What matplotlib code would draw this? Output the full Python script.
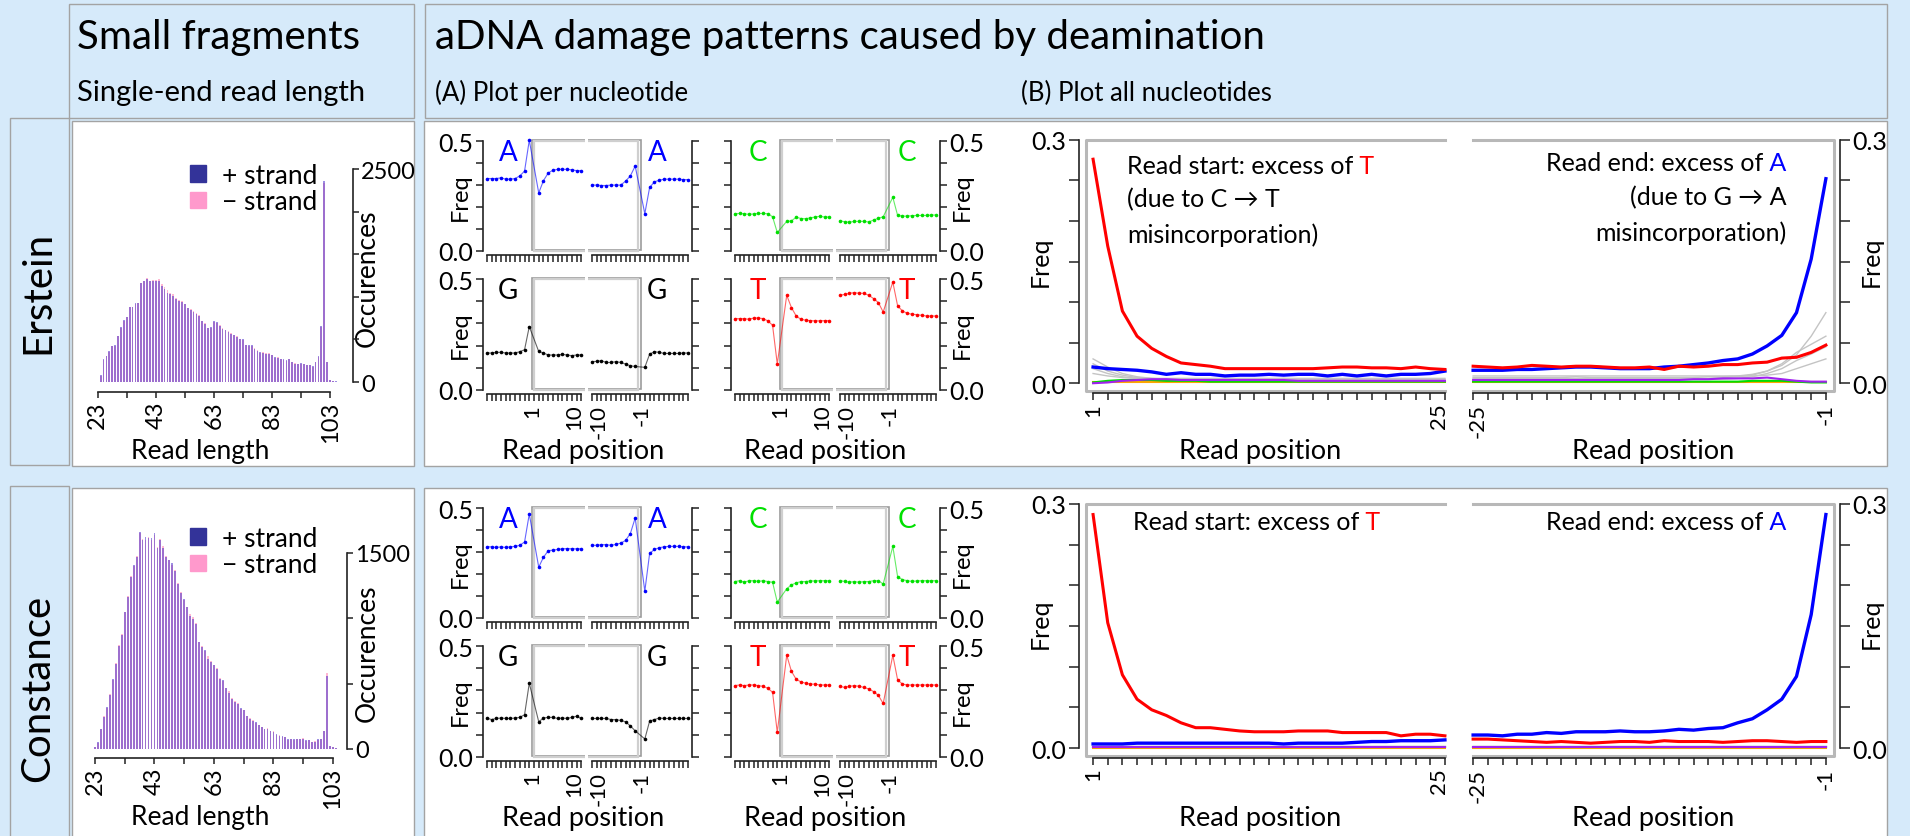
import matplotlib.pyplot as plt
from matplotlib.patches import Rectangle, Patch
from matplotlib.transforms import ScaledTranslation

plt.rcParams['font.family'] = ['Lato', 'DejaVu Sans']

W, H = 1910, 837
BG = '#d6eafa'
EDGE = '#a3a3a3'
AXC = '#222222'

# ---------------- read length histograms (lengths 23..106) ----------------
read_length = list(range(23, 107))
erstein_plus = [0, 78, 265, 300, 360, 420, 430, 540, 645, 725, 760, 880, 880, 925, 925,
                1165, 1180, 1210, 1190, 1190, 1190, 1190, 1130, 1090, 1050, 1035, 1015, 975,
                955, 935, 920, 865, 840, 820, 800, 780, 720, 685, 635, 645, 720, 700, 655,
                625, 605, 585, 565, 555, 525, 505, 500, 430, 435, 430, 390, 370, 350, 345,
                330, 330, 320, 290, 280, 265, 265, 255, 265, 235, 215, 215, 220, 215, 205,
                200, 185, 240, 300, 655, 2360, 240, 20, 10, 8, 5]
erstein_minus = [0, 70, 255, 305, 350, 425, 425, 545, 640, 720, 765, 875, 885, 920, 930,
                 1160, 1190, 1225, 1185, 1195, 1200, 1215, 1150, 1110, 1075, 1040, 1035, 990,
                 965, 950, 915, 870, 855, 835, 805, 785, 715, 690, 640, 640, 705, 690, 665,
                 640, 610, 600, 570, 550, 535, 500, 495, 440, 425, 425, 400, 375, 345, 350,
                 335, 340, 315, 285, 290, 270, 260, 250, 275, 230, 225, 210, 215, 210, 200,
                 205, 180, 235, 295, 650, 2340, 235, 18, 12, 6, 4]
constance_plus = [13, 50, 155, 245, 320, 415, 535, 650, 790, 875, 1050, 1160, 1315, 1410,
                  1470, 1660, 1600, 1620, 1615, 1615, 1650, 1535, 1600, 1535, 1470, 1445, 1420,
                  1365, 1265, 1190, 1150, 1085, 1020, 995, 960, 815, 780, 755, 690, 665, 640,
                  615, 535, 525, 465, 430, 385, 360, 345, 310, 295, 250, 230, 215, 205, 180,
                  165, 155, 155, 140, 130, 115, 100, 100, 90, 75, 75, 75, 75, 80, 80, 65, 65,
                  55, 55, 75, 75, 140, 560, 25, 13, 5, 3, 2]
constance_minus = [12, 48, 150, 250, 315, 420, 530, 660, 795, 880, 1045, 1170, 1320, 1400,
                   1480, 1650, 1610, 1600, 1625, 1600, 1640, 1545, 1610, 1550, 1480, 1450, 1410,
                   1370, 1270, 1200, 1140, 1090, 1030, 1010, 965, 820, 790, 750, 710, 670, 645,
                   620, 545, 520, 470, 440, 390, 365, 350, 305, 300, 255, 235, 220, 200, 185,
                   170, 150, 160, 135, 140, 110, 105, 95, 95, 72, 78, 72, 78, 78, 82, 62, 68,
                   52, 58, 72, 78, 135, 580, 24, 14, 6, 3, 2]

# ---------------- per-nucleotide frequencies (positions -10..-1, 1..10) ----------------
positions = [-10, -9, -8, -7, -6, -5, -4, -3, -2, -1, 1, 2, 3, 4, 5, 6, 7, 8, 9, 10]
erstein_A_5p = [0.330, 0.330, 0.330, 0.333, 0.327, 0.327, 0.330, 0.342, 0.364, 0.505,
                0.264, 0.320, 0.355, 0.368, 0.372, 0.372, 0.372, 0.370, 0.366, 0.366]
erstein_A_3p = [0.300, 0.300, 0.298, 0.298, 0.300, 0.300, 0.300, 0.318, 0.342, 0.387,
                0.169, 0.289, 0.315, 0.322, 0.327, 0.327, 0.327, 0.327, 0.325, 0.325]
erstein_C_5p = [0.169, 0.170, 0.169, 0.166, 0.168, 0.170, 0.170, 0.169, 0.155, 0.083,
                0.134, 0.136, 0.153, 0.147, 0.146, 0.150, 0.154, 0.157, 0.154, 0.154]
erstein_C_3p = [0.137, 0.132, 0.130, 0.134, 0.134, 0.134, 0.131, 0.140, 0.148, 0.155,
                0.244, 0.161, 0.158, 0.158, 0.160, 0.161, 0.161, 0.161, 0.163, 0.163]
erstein_G_5p = [0.166, 0.166, 0.169, 0.169, 0.166, 0.166, 0.166, 0.172, 0.181, 0.286,
                0.173, 0.166, 0.157, 0.157, 0.157, 0.160, 0.157, 0.154, 0.157, 0.157]
erstein_G_3p = [0.127, 0.128, 0.131, 0.123, 0.123, 0.127, 0.123, 0.116, 0.108, 0.105,
                0.101, 0.161, 0.172, 0.169, 0.164, 0.164, 0.164, 0.164, 0.166, 0.166]
erstein_T_5p = [0.322, 0.322, 0.322, 0.319, 0.325, 0.325, 0.322, 0.312, 0.292, 0.116,
                0.428, 0.372, 0.334, 0.319, 0.315, 0.313, 0.312, 0.312, 0.313, 0.313]
erstein_T_3p = [0.428, 0.432, 0.437, 0.440, 0.437, 0.437, 0.428, 0.413, 0.395, 0.352,
                0.488, 0.380, 0.357, 0.346, 0.342, 0.340, 0.337, 0.334, 0.334, 0.334]
constance_A_5p = [0.324, 0.324, 0.321, 0.324, 0.321, 0.324, 0.326, 0.331, 0.346, 0.474,
                  0.231, 0.276, 0.306, 0.309, 0.312, 0.315, 0.316, 0.315, 0.315, 0.315]
constance_A_3p = [0.331, 0.331, 0.334, 0.334, 0.331, 0.335, 0.341, 0.353, 0.385, 0.456,
                  0.121, 0.294, 0.312, 0.320, 0.324, 0.326, 0.326, 0.326, 0.324, 0.324]
constance_C_5p = [0.165, 0.169, 0.162, 0.169, 0.169, 0.166, 0.169, 0.165, 0.162, 0.071,
                  0.132, 0.150, 0.159, 0.165, 0.165, 0.168, 0.168, 0.169, 0.169, 0.169]
constance_C_3p = [0.169, 0.166, 0.162, 0.165, 0.162, 0.165, 0.165, 0.169, 0.169, 0.154,
                  0.326, 0.187, 0.174, 0.169, 0.166, 0.168, 0.169, 0.169, 0.169, 0.169]
constance_G_5p = [0.175, 0.168, 0.173, 0.175, 0.173, 0.173, 0.175, 0.178, 0.190, 0.333,
                  0.158, 0.175, 0.178, 0.178, 0.173, 0.175, 0.173, 0.178, 0.183, 0.173]
constance_G_3p = [0.173, 0.173, 0.173, 0.173, 0.168, 0.168, 0.164, 0.158, 0.139, 0.117,
                  0.080, 0.161, 0.168, 0.175, 0.173, 0.173, 0.173, 0.173, 0.173, 0.173]
constance_T_5p = [0.322, 0.325, 0.322, 0.325, 0.325, 0.322, 0.319, 0.310, 0.292, 0.110,
                  0.460, 0.387, 0.351, 0.339, 0.333, 0.329, 0.329, 0.325, 0.325, 0.325]
constance_T_3p = [0.319, 0.314, 0.319, 0.322, 0.319, 0.314, 0.307, 0.295, 0.278, 0.241,
                  0.460, 0.348, 0.329, 0.325, 0.325, 0.325, 0.325, 0.325, 0.325, 0.325]

# ---------------- misincorporation frequencies ----------------
start_pos = list(range(1, 26))
end_pos = list(range(-25, 0))
erstein_start_CT = [0.276, 0.169, 0.089, 0.058, 0.043, 0.033, 0.025, 0.023, 0.021, 0.018,
                    0.018, 0.018, 0.018, 0.018, 0.018, 0.018, 0.019, 0.020, 0.020, 0.019,
                    0.019, 0.018, 0.020, 0.018, 0.017]
erstein_start_GA = [0.020, 0.018, 0.017, 0.016, 0.014, 0.011, 0.013, 0.011, 0.011, 0.009,
                    0.010, 0.010, 0.011, 0.010, 0.011, 0.011, 0.009, 0.011, 0.009, 0.011,
                    0.009, 0.011, 0.011, 0.012, 0.015]
erstein_start_grey1 = [0.030, 0.020, 0.012, 0.008, 0.006, 0.005, 0.005, 0.005, 0.005, 0.005,
                       0.005, 0.005, 0.005, 0.006, 0.005, 0.005, 0.005, 0.005, 0.005, 0.005,
                       0.005, 0.005, 0.005, 0.005, 0.005]
erstein_start_grey2 = [0.024, 0.015, 0.010, 0.007, 0.006, 0.006, 0.006, 0.006, 0.006, 0.006,
                       0.006, 0.006, 0.006, 0.006, 0.006, 0.006, 0.006, 0.006, 0.006, 0.006,
                       0.006, 0.006, 0.006, 0.006, 0.006]
erstein_start_grey3 = [0.018, 0.012, 0.008, 0.006, 0.005, 0.004, 0.004, 0.004, 0.004, 0.004,
                       0.004, 0.004, 0.004, 0.004, 0.004, 0.004, 0.004, 0.004, 0.004, 0.004,
                       0.004, 0.004, 0.004, 0.004, 0.004]
erstein_start_grey4 = [0.012, 0.009, 0.007, 0.006, 0.005, 0.004, 0.004, 0.003, 0.003, 0.003,
                       0.003, 0.003, 0.003, 0.003, 0.003, 0.003, 0.003, 0.003, 0.003, 0.003,
                       0.003, 0.003, 0.003, 0.003, 0.003]
erstein_start_green = [0.001, 0.003, 0.004, 0.004, 0.004, 0.003, 0.003, 0.003, 0.002, 0.002,
                       0.002, 0.002, 0.002, 0.002, 0.002, 0.002, 0.002, 0.002, 0.002, 0.002,
                       0.002, 0.002, 0.002, 0.002, 0.002]
erstein_start_purple = [0.000, 0.001, 0.003, 0.004, 0.005, 0.005, 0.004, 0.004, 0.004, 0.004,
                        0.004, 0.004, 0.004, 0.004, 0.003, 0.003, 0.003, 0.003, 0.003, 0.003,
                        0.003, 0.003, 0.003, 0.003, 0.003]
erstein_start_orange = [0.001, 0.001, 0.001, 0.001, 0.001, 0.001, 0.001, 0.001, 0.001, 0.001,
                        0.001, 0.001, 0.001, 0.001, 0.001, 0.001, 0.001, 0.001, 0.001, 0.001,
                        0.001, 0.001, 0.001, 0.001, 0.001]
erstein_end_GA = [0.016, 0.016, 0.016, 0.017, 0.017, 0.018, 0.019, 0.020, 0.020, 0.019,
                  0.018, 0.018, 0.018, 0.020, 0.021, 0.023, 0.025, 0.028, 0.030, 0.036,
                  0.046, 0.059, 0.087, 0.153, 0.252]
erstein_end_CT = [0.021, 0.020, 0.019, 0.020, 0.022, 0.021, 0.020, 0.021, 0.021, 0.020,
                  0.019, 0.019, 0.020, 0.017, 0.021, 0.020, 0.021, 0.023, 0.023, 0.025,
                  0.026, 0.031, 0.032, 0.038, 0.047]
erstein_end_grey1 = [0.007, 0.007, 0.007, 0.007, 0.007, 0.007, 0.007, 0.008, 0.007, 0.007,
                     0.007, 0.007, 0.007, 0.007, 0.007, 0.007, 0.008, 0.008, 0.009, 0.011,
                     0.015, 0.022, 0.035, 0.058, 0.087]
erstein_end_grey2 = [0.006, 0.006, 0.006, 0.006, 0.006, 0.006, 0.006, 0.006, 0.006, 0.006,
                     0.006, 0.006, 0.006, 0.006, 0.006, 0.006, 0.006, 0.007, 0.008, 0.010,
                     0.015, 0.024, 0.038, 0.048, 0.058]
erstein_end_grey3 = [0.005, 0.005, 0.005, 0.005, 0.005, 0.005, 0.005, 0.005, 0.005, 0.005,
                     0.005, 0.005, 0.005, 0.005, 0.005, 0.005, 0.005, 0.005, 0.006, 0.008,
                     0.012, 0.018, 0.028, 0.036, 0.045]
erstein_end_grey4 = [0.009, 0.009, 0.009, 0.009, 0.009, 0.009, 0.009, 0.009, 0.009, 0.009,
                     0.009, 0.009, 0.009, 0.009, 0.009, 0.009, 0.009, 0.009, 0.009, 0.009,
                     0.010, 0.012, 0.018, 0.024, 0.030]
erstein_end_green = [0.002, 0.002, 0.002, 0.002, 0.002, 0.002, 0.002, 0.002, 0.002, 0.002,
                     0.002, 0.002, 0.002, 0.002, 0.002, 0.002, 0.002, 0.002, 0.002, 0.003,
                     0.003, 0.003, 0.002, 0.001, 0.001]
erstein_end_purple = [0.004, 0.004, 0.004, 0.004, 0.004, 0.004, 0.004, 0.004, 0.004, 0.004,
                      0.004, 0.004, 0.004, 0.004, 0.004, 0.005, 0.005, 0.006, 0.006, 0.006,
                      0.007, 0.005, 0.003, 0.002, 0.002]
erstein_end_orange = [0.001, 0.001, 0.001, 0.001, 0.001, 0.001, 0.001, 0.001, 0.001, 0.001,
                      0.001, 0.001, 0.001, 0.001, 0.001, 0.001, 0.001, 0.001, 0.001, 0.001,
                      0.001, 0.001, 0.001, 0.001, 0.001]
constance_start_CT = [0.287, 0.154, 0.090, 0.060, 0.047, 0.040, 0.031, 0.025, 0.025, 0.023,
                      0.021, 0.020, 0.020, 0.020, 0.021, 0.021, 0.021, 0.019, 0.019, 0.019,
                      0.019, 0.015, 0.017, 0.017, 0.015]
constance_start_GA = [0.005, 0.005, 0.005, 0.006, 0.006, 0.006, 0.006, 0.006, 0.006, 0.006,
                      0.006, 0.006, 0.006, 0.005, 0.006, 0.006, 0.006, 0.006, 0.007, 0.008,
                      0.008, 0.009, 0.009, 0.009, 0.010]
constance_start_grey1 = [0.003, 0.003, 0.003, 0.003, 0.003, 0.003, 0.003, 0.003, 0.003, 0.003,
                         0.003, 0.003, 0.003, 0.003, 0.003, 0.003, 0.003, 0.003, 0.003, 0.003,
                         0.003, 0.003, 0.003, 0.003, 0.003]
constance_start_purple = [0.001, 0.001, 0.001, 0.001, 0.001, 0.001, 0.001, 0.001, 0.001, 0.001,
                          0.001, 0.001, 0.001, 0.001, 0.001, 0.001, 0.001, 0.001, 0.001, 0.001,
                          0.001, 0.001, 0.001, 0.001, 0.001]
constance_start_orange = [0.000, 0.000, 0.000, 0.000, 0.000, 0.000, 0.000, 0.000, 0.000, 0.000,
                          0.000, 0.000, 0.000, 0.000, 0.000, 0.000, 0.000, 0.000, 0.000, 0.000,
                          0.000, 0.000, 0.000, 0.000, 0.000]
constance_end_GA = [0.016, 0.016, 0.015, 0.017, 0.017, 0.019, 0.018, 0.020, 0.020, 0.020,
                    0.021, 0.020, 0.020, 0.021, 0.023, 0.022, 0.024, 0.025, 0.031, 0.036,
                    0.047, 0.060, 0.088, 0.164, 0.287]
constance_end_CT = [0.011, 0.011, 0.010, 0.009, 0.008, 0.007, 0.008, 0.007, 0.006, 0.007,
                    0.008, 0.008, 0.007, 0.009, 0.008, 0.008, 0.008, 0.007, 0.008, 0.009,
                    0.009, 0.008, 0.007, 0.008, 0.008]
constance_end_grey1 = [0.003, 0.003, 0.003, 0.003, 0.003, 0.003, 0.003, 0.003, 0.003, 0.003,
                       0.003, 0.003, 0.003, 0.003, 0.003, 0.003, 0.003, 0.003, 0.003, 0.003,
                       0.003, 0.003, 0.003, 0.003, 0.003]
constance_end_purple = [0.001, 0.001, 0.001, 0.001, 0.001, 0.001, 0.001, 0.001, 0.001, 0.001,
                        0.001, 0.001, 0.001, 0.001, 0.001, 0.001, 0.001, 0.001, 0.001, 0.001,
                        0.001, 0.001, 0.001, 0.001, 0.001]
constance_end_orange = [0.000, 0.000, 0.000, 0.000, 0.000, 0.000, 0.000, 0.000, 0.000, 0.000,
                        0.000, 0.000, 0.000, 0.000, 0.000, 0.000, 0.000, 0.000, 0.000, 0.000,
                        0.000, 0.000, 0.000, 0.000, 0.000]

NUC_COL = {'A': '#0000ff', 'C': '#00e000', 'G': '#000000', 'T': '#ff0000'}

fig = plt.figure(figsize=(W / 100, H / 100), dpi=100)
fig.patch.set_facecolor(BG)

# overlay axes in pixel coordinates for cells and free text
ov = fig.add_axes([0, 0, 1, 1], zorder=0)
ov.set_xlim(0, W)
ov.set_ylim(H, 0)
ov.axis('off')


def cell(x0, y0, x1, y1, fc):
    ov.add_patch(Rectangle((x0, y0), x1 - x0, y1 - y0, fc=fc, ec=EDGE, lw=1.0))


def px_axes(x0, y0, x1, y1):
    a = fig.add_axes([x0 / W, 1 - y1 / H, (x1 - x0) / W, (y1 - y0) / H], zorder=2)
    a.patch.set_visible(False)
    return a


def shift_labels(ax, shifts):
    # nudge rotated tick labels sideways, like R does with las=2
    for tick, val in zip(ax.xaxis.get_major_ticks(), ax.get_xticks()):
        dx = shifts.get(int(round(val)), 0)
        if dx:
            lab = tick.label1
            lab.set_transform(lab.get_transform() + ScaledTranslation(dx / 100, 0, fig.dpi_scale_trans))


# layout cells
cell(69, 5, 414, 119, BG)
cell(425, 5, 1887, 119, BG)
cell(10, 119, 69, 466, BG)
cell(72, 122, 414, 467, 'white')
cell(424, 122, 1887, 467, 'white')
cell(10, 487, 69, 850, BG)
cell(72, 489, 414, 850, 'white')
cell(424, 489, 1887, 850, 'white')

ov.text(77, 37, 'Small fragments', fontsize=29, va='center')
ov.text(77, 93, 'Single-end read length', fontsize=21, va='center')
ov.text(435, 37, 'aDNA damage patterns caused by deamination', fontsize=29, va='center')
ov.text(435, 93, '(A) Plot per nucleotide', fontsize=18.5, va='center')
ov.text(1021, 93, '(B) Plot all nucleotides', fontsize=18.5, va='center')
ov.text(38, 292, 'Erstein', fontsize=29, rotation=90, va='center', ha='center')
ov.text(38, 688, 'Constance', fontsize=29, rotation=90, va='center', ha='center')


def style_spines(ax, side):
    for s in ('top', 'left', 'right'):
        ax.spines[s].set_visible(False)
    ax.spines[side].set_visible(True)
    for s in ('bottom', side):
        ax.spines[s].set_color(AXC)
        ax.spines[s].set_linewidth(1.2)
    ax.yaxis.set_ticks_position(side)
    ax.tick_params(colors=AXC, labelcolor='black', width=1.1)


# ---------------- histograms ----------------
def histogram(plus, minus, x0, x1, y_top, y_axis, xlim, ylim, ymax, ylabels, leg_y, occ_y):
    ax = px_axes(x0, y_top, x1, y_axis)
    ax.bar(read_length, minus, width=0.62, color=(1.0, 0.45, 0.65, 0.5), lw=0)
    ax.bar(read_length, plus, width=0.62, color=(0.3, 0.2, 0.8, 0.55), lw=0)
    ax.set_xlim(*xlim)
    ax.set_ylim(*ylim)
    style_spines(ax, 'right')
    ax.spines['bottom'].set_bounds(23, 103)
    ax.spines['right'].set_bounds(0, ymax)
    ax.set_xticks(range(23, 104, 10))
    ax.set_xticklabels(['23', '', '43', '', '63', '', '83', '', '103'], rotation=90, fontsize=17)
    ax.set_yticks(range(0, ymax + 1, 500))
    ax.set_yticklabels(ylabels, fontsize=17)
    ax.tick_params(axis='both', length=4, pad=2)
    ov.text(367, occ_y, 'Occurences', fontsize=19, rotation=90, va='center', ha='center')
    ov.text(200, y_axis + 59, 'Read length', fontsize=19, ha='center', va='center')
    ax.legend(handles=[Patch(color='#333399', label='+ strand'),
                       Patch(color='#ff99cc', label='\u2212 strand')],
              loc='upper left', bbox_to_anchor=(190 / W, 1 - leg_y / H),
              bbox_transform=fig.transFigure, frameon=False, fontsize=19,
              handlelength=0.6, handleheight=0.6, handletextpad=0.6, labelspacing=0.05,
              borderaxespad=0, borderpad=0)


histogram(erstein_plus, erstein_minus, 91.9, 353, 161.5, 393, (21, 110.9), (-117, 2600),
          2500, ['0', '', '', '', '', '2500'], 164, 278)
histogram(constance_plus, constance_minus, 89.0, 347, 501.7, 759, (21, 107.7), (-69, 1900),
          1500, ['0', '', '', '1500'], 527, 653)


# ---------------- per-nucleotide panels ----------------
def read_box(ax, end):
    if end == '5p':
        boxes = [(-0.5, 0.004, 12.0, 0.501, '#9c9c9c', 1.2), (0.0, 0.0, 12.0, 0.5, '#cfcfcf', 1.6)]
    else:
        boxes = [(-12.0, 0.004, 12.2, 0.501, '#9c9c9c', 1.2), (-12.0, 0.0, 11.6, 0.5, '#cfcfcf', 1.6)]
    for bx, by, bw, bh, c, lw in boxes:
        ax.add_patch(Rectangle((bx, by), bw, bh, fill=False, ec=c, lw=lw, clip_on=True, zorder=1))


def nuc_pair(x0, y0, y1, base, vals5, vals3, outer, bottom_row):
    col = NUC_COL[base]
    ax5 = px_axes(x0, y0, x0 + 102, y1)
    ax3 = px_axes(x0 + 105, y0, x0 + 209, y1)
    for ax, vals, side, end in ((ax5, vals5, 'left', '5p'), (ax3, vals3, 'right', '3p')):
        read_box(ax, end)
        ax.plot(positions, vals, color=col, lw=0.8, alpha=0.6, zorder=3)
        ax.plot(positions, vals, 'o', color=col, ms=2.6, mec='none', zorder=4)
        ax.set_xlim(-10.8, 10.8)
        ax.set_ylim(-0.02, 0.52)
        style_spines(ax, side)
        ax.spines[side].set_bounds(0, 0.5)
        ax.spines['bottom'].set_bounds(-10, 10)
        ax.set_yticks([0, 0.1, 0.2, 0.3, 0.4, 0.5])
        if side == outer:
            ax.set_yticklabels(['0.0', '', '', '', '', '0.5'], fontsize=18)
        else:
            ax.set_yticklabels([])
        ax.set_xticks(range(-10, 11))
        ax.tick_params(axis='y', length=5, pad=2)
        ax.tick_params(axis='x', length=5, pad=2)
        if bottom_row:
            if end == '5p':
                labs = {1: '1', 10: '10'}
            else:
                labs = {-10: '-10', -1: '-1'}
            ax.set_xticklabels([labs.get(i, '') for i in range(-10, 11)], rotation=90, fontsize=16)
            if end == '5p':
                shift_labels(ax, {1: -7, 10: -7})
            else:
                shift_labels(ax, {-10: 7, -1: 6})
        else:
            ax.set_xticklabels([])
    ymid = (y0 + y1) / 2
    if outer == 'left':
        ov.text(x0 - 23, ymid, 'Freq', fontsize=17, rotation=90, va='center', ha='center')
        ov.text(x0 + 25, y0 + 15, base, fontsize=20, color=col, va='center', ha='center')
        ov.text(x0 + 174, y0 + 15, base, fontsize=20, color=col, va='center', ha='center')
    else:
        ov.text(x0 + 231, ymid, 'Freq', fontsize=17, rotation=90, va='center', ha='center')
        ov.text(x0 + 27, y0 + 15, base, fontsize=20, color=col, va='center', ha='center')
        ov.text(x0 + 176, y0 + 15, base, fontsize=20, color=col, va='center', ha='center')


for dy, A5, A3, C5, C3, G5, G3, T5, T3 in (
        (0, erstein_A_5p, erstein_A_3p, erstein_C_5p, erstein_C_3p,
         erstein_G_5p, erstein_G_3p, erstein_T_5p, erstein_T_3p),
        (367, constance_A_5p, constance_A_3p, constance_C_5p, constance_C_3p,
         constance_G_5p, constance_G_3p, constance_T_5p, constance_T_3p)):
    nuc_pair(483, 138 + dy, 256 + dy, 'A', A5, A3, 'left', False)
    nuc_pair(731, 138 + dy, 256 + dy, 'C', C5, C3, 'right', False)
    nuc_pair(483, 276 + dy, 395 + dy, 'G', G5, G3, 'left', True)
    nuc_pair(731, 276 + dy, 395 + dy, 'T', T5, T3, 'right', True)
    ov.text(583, 452 + dy, 'Read position', fontsize=19.5, ha='center', va='center')
    ov.text(825, 452 + dy, 'Read position', fontsize=19.5, ha='center', va='center')


# ---------------- all-nucleotide panels ----------------
def all_panel(x0, x1, y0, y1, pos, greys, orange, green, purple, ga, ct, side):
    ax = px_axes(x0, y0, x1, y1)
    for g in greys:
        ax.plot(pos, g, color='#c4c4c4', lw=1.0, zorder=2)
    ax.plot(pos, orange, color='#ffa500', lw=1.5, zorder=3)
    ax.plot(pos, green, color='#00dd00', lw=1.5, zorder=3)
    ax.plot(pos, purple, color='#a020f0', lw=1.5, zorder=3)
    ax.plot(pos, ga, color='#0000ff', lw=2.4, zorder=4)
    ax.plot(pos, ct, color='#ff0000', lw=2.2, zorder=5)
    ax.set_ylim(-0.012, 0.312)
    style_spines(ax, side)
    ax.spines[side].set_bounds(0, 0.3)
    ax.set_yticks([0, 0.05, 0.1, 0.15, 0.2, 0.25, 0.3])
    ax.set_yticklabels(['0.0', '', '', '', '', '', '0.3'], fontsize=18)
    ax.tick_params(axis='y', length=7, pad=2)
    ax.tick_params(axis='x', length=5, pad=2)
    ax.set_xticks(pos)
    if side == 'left':
        ax.set_xlim(0.04, 25.96)
        ax.spines['bottom'].set_bounds(1, 25)
        ax.set_xticklabels(['1'] + [''] * 23 + ['25'], rotation=90, fontsize=16)
        shift_labels(ax, {25: -6})
        fx = [25, 0.52, 0.52, 25]
    else:
        ax.set_xlim(-25.96, -0.04)
        ax.spines['bottom'].set_bounds(-25, -1)
        ax.set_xticklabels(['-25'] + [''] * 23 + ['-1'], rotation=90, fontsize=16)
        shift_labels(ax, {-25: 5})
        fx = [-25, -0.45, -0.45, -25]
    ax.plot(fx, [0.3, 0.3, -0.01, -0.01], color='#b8b8b8', lw=2.2, zorder=1, clip_on=False)


def two_tone_left(x, y, head, tail, color):
    t = ov.text(x, y, head, fontsize=18, va='center', ha='left')
    ov.annotate(tail, xy=(1, 0), xycoords=t, va='bottom', ha='left', fontsize=18, color=color)


def two_tone_right(x, y, head, tail, color):
    t = ov.text(x, y, tail, fontsize=18, va='center', ha='right', color=color)
    ov.annotate(head, xy=(0, 0), xycoords=t, va='bottom', ha='right', fontsize=18)


for dy, yb, yt, greys_s, ors, grs, pus, gas, cts, greys_e, ore, gre, pue, gae, cte, long_note in (
        (0, 394, 131,
         [erstein_start_grey1, erstein_start_grey2, erstein_start_grey3, erstein_start_grey4],
         erstein_start_orange, erstein_start_green, erstein_start_purple,
         erstein_start_GA, erstein_start_CT,
         [erstein_end_grey1, erstein_end_grey2, erstein_end_grey3, erstein_end_grey4],
         erstein_end_orange, erstein_end_green, erstein_end_purple,
         erstein_end_GA, erstein_end_CT, True),
        (362, 758.8, 495.2,
         [constance_start_grey1], constance_start_orange, constance_start_purple,
         constance_start_purple, constance_start_GA, constance_start_CT,
         [constance_end_grey1], constance_end_orange, constance_end_purple,
         constance_end_purple, constance_end_GA, constance_end_CT, False)):
    all_panel(1079, 1459, yt, yb, start_pos, greys_s, ors, grs, pus, gas, cts, 'left')
    all_panel(1459, 1840, yt, yb, end_pos, greys_e, ore, gre, pue, gae, cte, 'right')
    ov.text(1040, 262 + dy, 'Freq', fontsize=18, rotation=90, va='center', ha='center')
    ov.text(1871, 262 + dy, 'Freq', fontsize=18, rotation=90, va='center', ha='center')
    ov.text(1260, 452 + dy + (5 if dy else 0), 'Read position', fontsize=19.5, ha='center', va='center')
    ov.text(1653, 452 + dy + (5 if dy else 0), 'Read position', fontsize=19.5, ha='center', va='center')
    if long_note:
        two_tone_left(1127, 166 + dy, 'Read start: excess of', ' T', '#ff0000')
        ov.text(1127, 200 + dy, '(due to C \u2192 T', fontsize=18, va='center')
        ov.text(1127, 235 + dy, 'misincorporation)', fontsize=18, va='center')
        two_tone_right(1786, 163 + dy, 'Read end: excess of', ' A', '#0000ff')
        ov.text(1786, 198 + dy, '(due to G \u2192 A', fontsize=18, va='center', ha='right')
        ov.text(1786, 233 + dy, 'misincorporation)', fontsize=18, va='center', ha='right')
    else:
        two_tone_left(1133, 160 + dy, 'Read start: excess of', ' T', '#ff0000')
        two_tone_right(1786, 160 + dy, 'Read end: excess of', ' A', '#0000ff')

fig.savefig('out.png', dpi=100, facecolor=BG)
